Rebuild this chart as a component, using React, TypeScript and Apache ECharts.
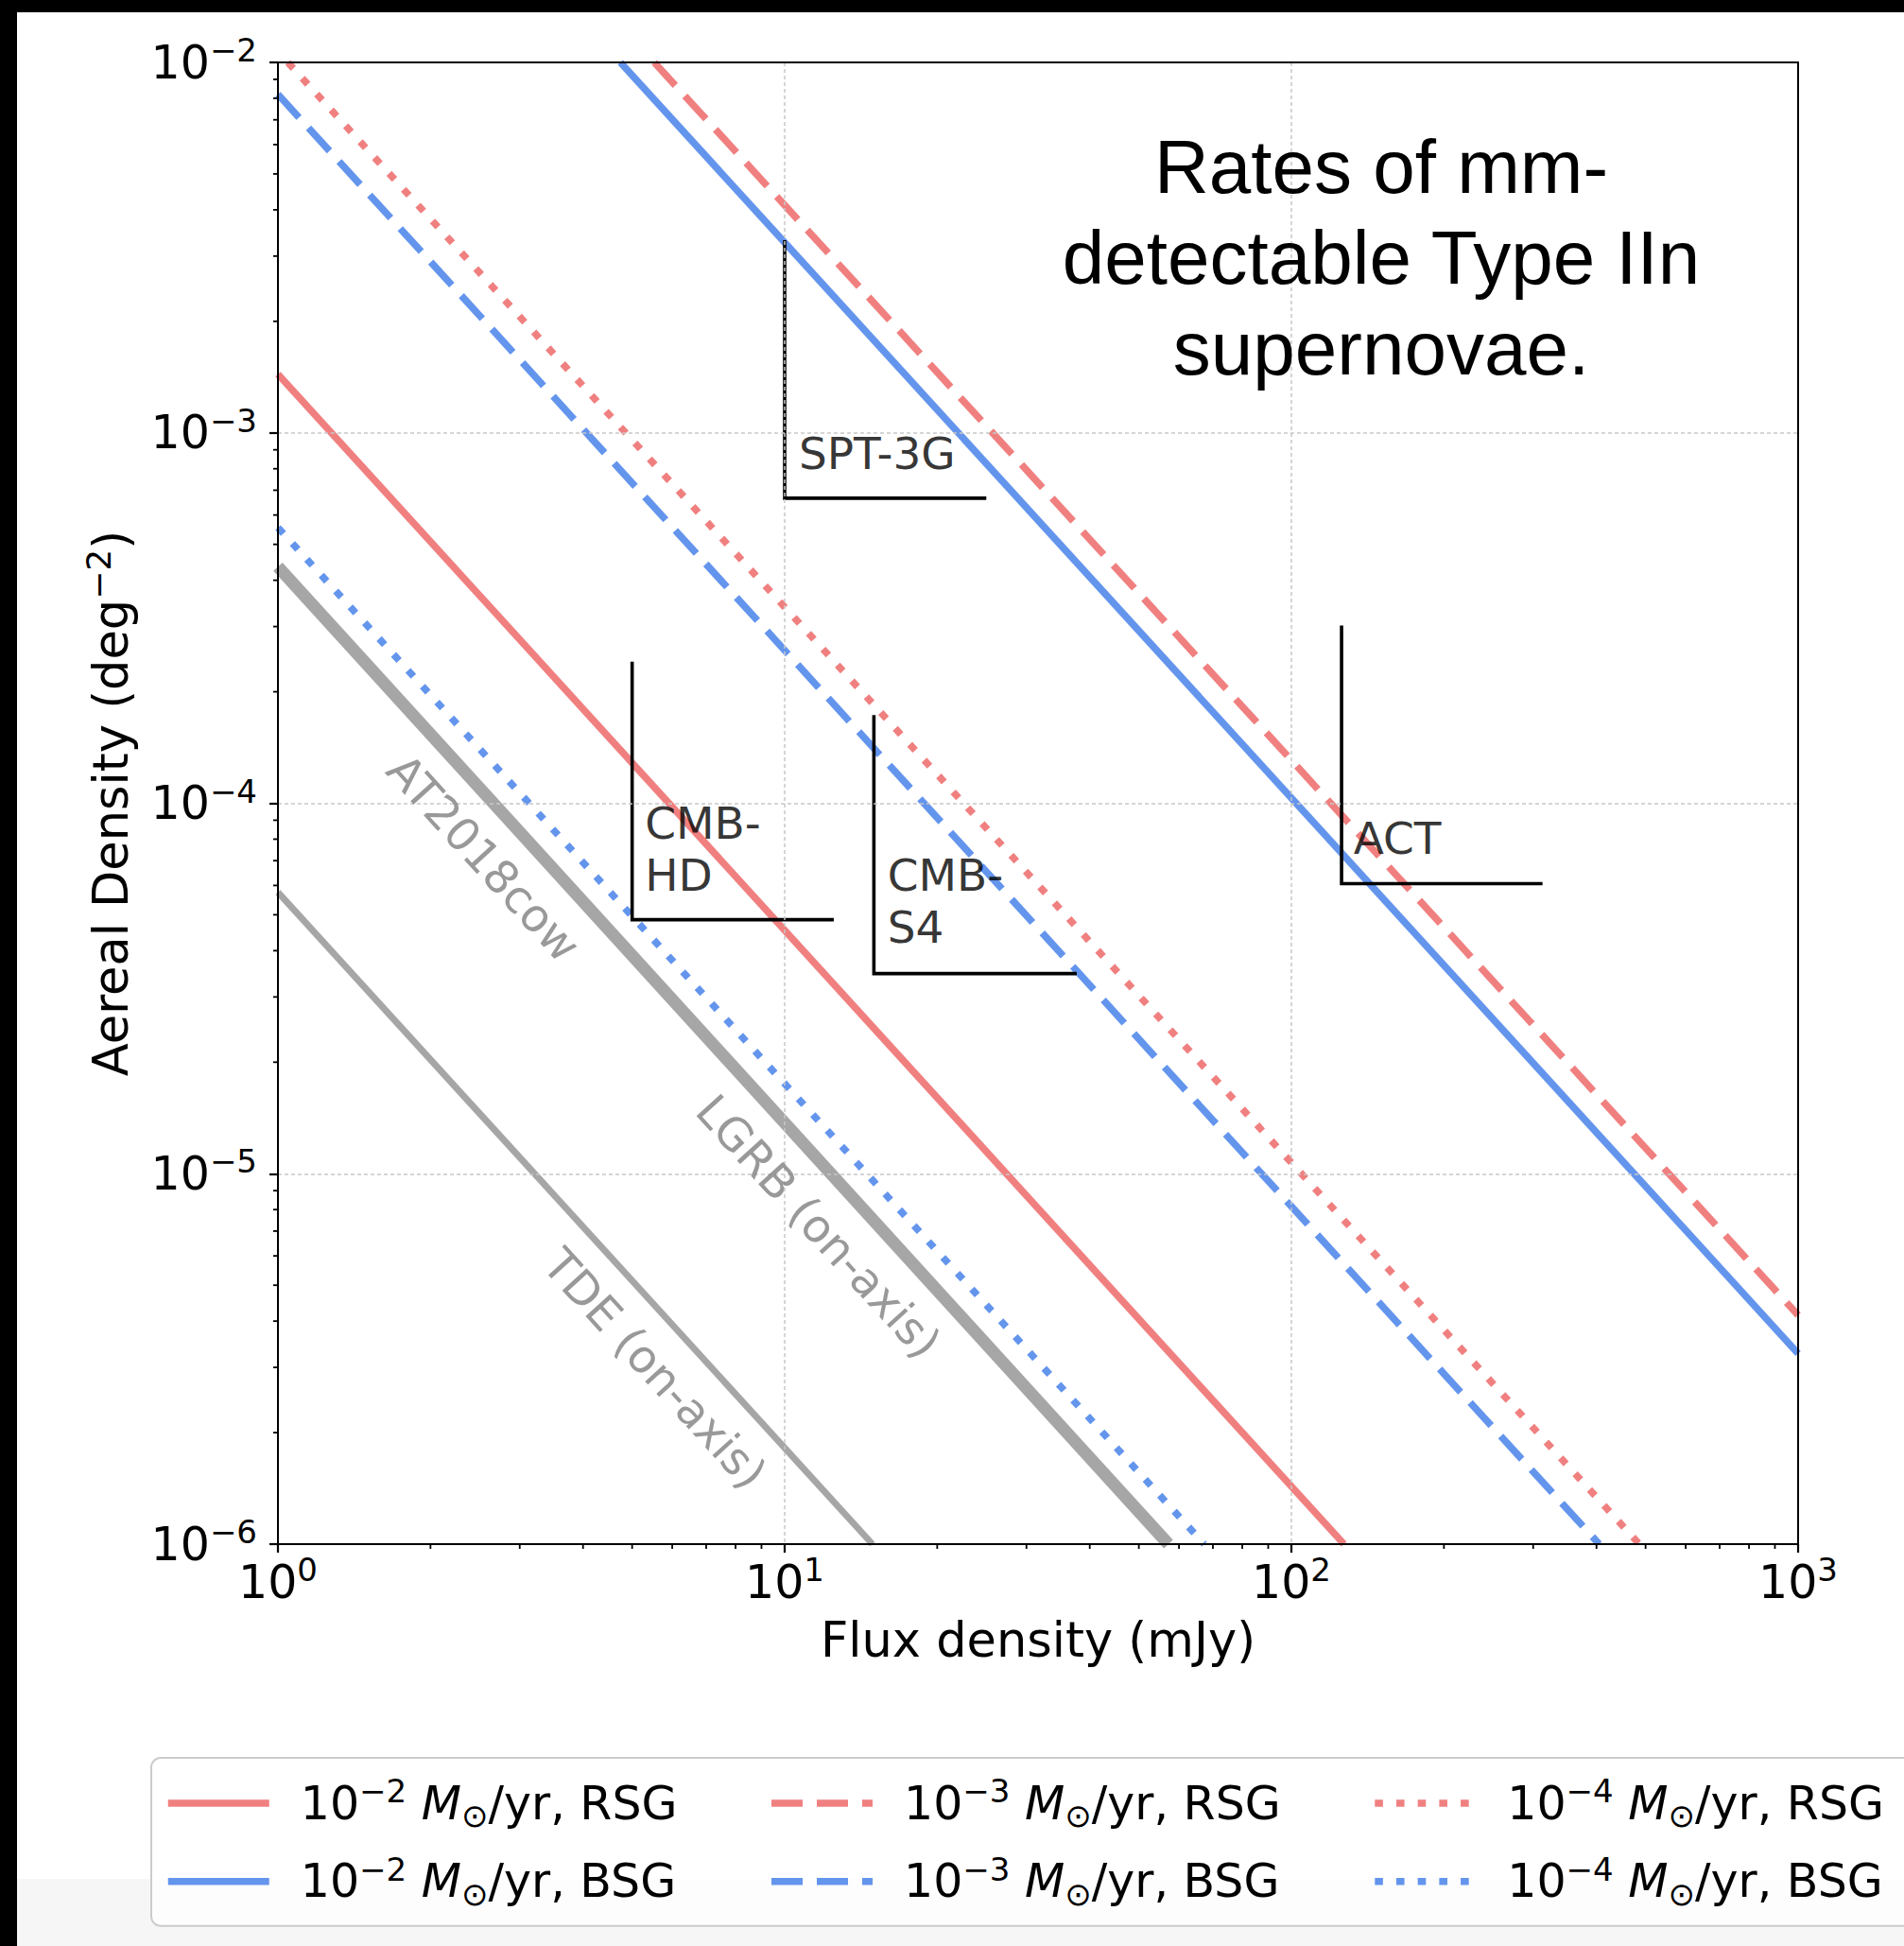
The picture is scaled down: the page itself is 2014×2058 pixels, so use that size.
import React, { useEffect, useRef } from 'react';
import * as echarts from 'echarts';

const FONT = "'DejaVu Sans', 'Noto Sans', sans-serif";

// Axis ranges (log)
const X_RANGE = [1, 1000];
const Y_RANGE = [1e-6, 1e-2];

// Rate curves: endpoints where each line meets the plot frame [flux mJy, density deg^-2]
const massLossExponents = ['−2', '−3', '−4'];
const progenitors = ['RSG', 'BSG'];
const progenitorColors = ['#F08080', '#6495ED'];
const rsgLines = [
  [[1, 1.44e-3], [127, 1e-6]],
  [[5.53, 1e-2], [1000, 4.15e-6]],
  [[1.046, 1e-2], [486, 1e-6]],
];
const bsgLines = [
  [[4.74, 1e-2], [1000, 3.27e-6]],
  [[1, 8.2e-3], [405, 1e-6]],
  [[1, 5.55e-4], [67.3, 1e-6]],
];

// Other transients (grey)
const transientNames = ['AT2018cow / LGRB (on-axis)', 'TDE (on-axis)'];
const transientLines = [
  [[1, 4.35e-4], [57.2, 1e-6]],
  [[1, 5.75e-5], [14.9, 1e-6]],
];
const curveLabelText = ['AT2018cow', 'LGRB (on-axis)', 'TDE (on-axis)'];
const curveLabelPos = [[2.55, 7.13e-5], [11.67, 7.21e-6], [5.55, 2.98e-6]];

// Surveys (detection limit corners)
const surveyNames = ['SPT-3G', 'CMB-HD', 'CMB-S4', 'ACT'];
const surveyLabelText = ['SPT-3G', 'CMB-\nHD', 'CMB-\nS4', 'ACT'];
const surveyFlux = [10, 5, 15, 125.6];
const surveyTop = [3.31e-3, 2.41e-4, 1.73e-4, 3.02e-4];
const surveyFloor = [6.66e-4, 4.85e-5, 3.47e-5, 6.07e-5];
const surveyFluxEnd = [25, 12.5, 37.7, 313];
const surveyLabelPos = [[10.66, 8.8e-4], [5.3, 7.54e-5], [15.95, 5.43e-5], [132.6, 8.04e-5]];

// Log minor ticks
const xMinorTicks = [2, 3, 4, 5, 6, 7, 8, 9, 20, 30, 40, 50, 60, 70, 80, 90, 200, 300, 400, 500, 600, 700, 800, 900];
const yMinorTicks = [
  2e-6, 3e-6, 4e-6, 5e-6, 6e-6, 7e-6, 8e-6, 9e-6,
  2e-5, 3e-5, 4e-5, 5e-5, 6e-5, 7e-5, 8e-5, 9e-5,
  2e-4, 3e-4, 4e-4, 5e-4, 6e-4, 7e-4, 8e-4, 9e-4,
  2e-3, 3e-3, 4e-3, 5e-3, 6e-3, 7e-3, 8e-3, 9e-3,
];

const titleText = 'Rates of mm-\ndetectable Type IIn\nsupernovae.';

const lineDashes: any[] = ['solid', [33, 15], [8.6, 14.1]];

const tickRich = {
  n: { fontFamily: FONT, fontSize: 49, lineHeight: 60, color: '#000' },
  s: { fontFamily: FONT, fontSize: 34, lineHeight: 36, verticalAlign: 'top', color: '#000' },
};

const legendRich = {
  n: { fontFamily: FONT, fontSize: 49, lineHeight: 60, color: '#000' },
  e: { fontFamily: FONT, fontSize: 49, lineHeight: 60, color: '#000', width: 273 },
  s: { fontFamily: FONT, fontSize: 34, lineHeight: 36, verticalAlign: 'top', color: '#000' },
  m: { fontFamily: FONT, fontSize: 49, lineHeight: 60, fontStyle: 'italic', color: '#000' },
  o: { fontFamily: FONT, fontSize: 34, lineHeight: 40, verticalAlign: 'bottom', color: '#000' },
};

function powLabel(v: number) {
  const e = Math.round(Math.log10(v));
  const s = e < 0 ? '−' + String(-e) : String(e);
  return '{n|10}{s|' + s + '}';
}

function buildOption() {
  const series: any[] = [];
  const legendData: string[] = [];

  progenitors.forEach((prog, pi) => {
    const lines = pi === 0 ? rsgLines : bsgLines;
    massLossExponents.forEach((exp, mi) => {
      const name = prog + ':' + exp;
      legendData.push(name);
      series.push({
        name,
        type: 'line',
        data: lines[mi],
        symbol: 'none',
        clip: true,
        silent: true,
        z: 3,
        itemStyle: { color: progenitorColors[pi] },
        lineStyle: { color: progenitorColors[pi], width: 7.5, type: lineDashes[mi], cap: 'butt' },
      });
    });
    if (pi === 0) legendData.push('');
  });

  transientNames.forEach((nm, i) => {
    series.push({
      name: nm,
      type: 'line',
      data: transientLines[i],
      symbol: 'none',
      clip: true,
      silent: true,
      z: 2,
      lineStyle: { color: '#a6a6a6', width: i === 0 ? 13 : 7, cap: 'butt' },
    });
  });

  surveyNames.forEach((nm, i) => {
    series.push({
      name: nm,
      type: 'line',
      data: [
        [surveyFlux[i], surveyTop[i]],
        [surveyFlux[i], surveyFloor[i]],
        [surveyFluxEnd[i], surveyFloor[i]],
      ],
      symbol: 'none',
      clip: true,
      silent: true,
      z: 4,
      lineStyle: { color: '#000', width: 3.6, join: 'miter' },
    });
  });

  series.push({
    name: 'survey labels',
    type: 'scatter',
    symbolSize: 1,
    silent: true,
    z: 6,
    itemStyle: { color: 'rgba(0,0,0,0)' },
    data: surveyLabelPos.map((p, i) => ({ name: surveyLabelText[i], value: p })),
    label: {
      show: true,
      position: 'inside',
      align: 'left',
      verticalAlign: 'middle',
      formatter: '{b}',
      fontFamily: FONT,
      fontSize: 47,
      lineHeight: 55,
      color: '#000',
    },
  });

  series.push({
    name: 'curve labels',
    type: 'scatter',
    symbolSize: 1,
    silent: true,
    z: 6,
    itemStyle: { color: 'rgba(0,0,0,0)' },
    data: curveLabelPos.map((p, i) => ({ name: curveLabelText[i], value: p })),
    label: {
      show: true,
      position: 'inside',
      align: 'center',
      verticalAlign: 'middle',
      rotate: -47.63,
      formatter: '{b}',
      fontFamily: FONT,
      fontSize: 48,
      color: '#808080',
    },
  });

  series.push({
    name: 'x minor ticks',
    type: 'custom',
    silent: true,
    clip: false,
    z: 5,
    data: xMinorTicks.map((v) => [v, Y_RANGE[0]]),
    renderItem: (params: any, api: any) => {
      const p = api.coord([api.value(0), api.value(1)]);
      return {
        type: 'line',
        shape: { x1: p[0], y1: p[1], x2: p[0], y2: p[1] + 5 },
        style: { stroke: '#000', lineWidth: 1.8 },
      };
    },
  });

  series.push({
    name: 'y minor ticks',
    type: 'custom',
    silent: true,
    clip: false,
    z: 5,
    data: yMinorTicks.map((v) => [X_RANGE[0], v]),
    renderItem: (params: any, api: any) => {
      const p = api.coord([api.value(0), api.value(1)]);
      return {
        type: 'line',
        shape: { x1: p[0] - 5, y1: p[1], x2: p[0], y2: p[1] },
        style: { stroke: '#000', lineWidth: 1.8 },
      };
    },
  });

  const axisCommon = {
    type: 'log',
    logBase: 10,
    z: 5,
    axisLine: { show: true, onZero: false, lineStyle: { color: '#000', width: 2 } },
    axisTick: { show: true, length: 9, lineStyle: { color: '#000', width: 2.2 } },
    minorTick: { show: false },
    splitLine: {
      show: true,
      showMinLine: false,
      showMaxLine: false,
      lineStyle: { color: '#c8c8c8', width: 1.5, type: [4, 3] },
    },
  };

  const spineAxis = {
    type: 'log',
    logBase: 10,
    z: 6,
    axisLine: { show: true, onZero: false, lineStyle: { color: '#000', width: 2 } },
    axisTick: { show: false },
    axisLabel: { show: false },
    splitLine: { show: false },
    minorTick: { show: false },
  };

  return {
    animation: false,
    backgroundColor: '#ffffff',
    grid: {
      left: 294,
      top: 66,
      width: 1608,
      height: 1567,
      show: false,
      containLabel: false,
      outerBoundsMode: 'none',
    },
    xAxis: [
      {
        ...axisCommon,
        min: X_RANGE[0],
        max: X_RANGE[1],
        splitNumber: 3,
        position: 'bottom',
        axisLabel: {
          margin: 10,
          formatter: powLabel,
          rich: tickRich,
          showMinLabel: true,
          showMaxLabel: true,
        },
        name: 'Flux density (mJy)',
        nameLocation: 'middle',
        nameGap: 70,
        nameTextStyle: { fontFamily: FONT, fontSize: 51, lineHeight: 62, color: '#000' },
      },
      { ...spineAxis, min: X_RANGE[0], max: X_RANGE[1], position: 'top' },
    ],
    yAxis: [
      {
        ...axisCommon,
        min: Y_RANGE[0],
        max: Y_RANGE[1],
        splitNumber: 4,
        position: 'left',
        axisLabel: {
          margin: 22,
          formatter: powLabel,
          rich: tickRich,
          showMinLabel: true,
          showMaxLabel: true,
        },
        name: '{n|Aereal Density (deg}{s|−2}{n|)}',
        nameLocation: 'middle',
        nameGap: 146,
        nameTextStyle: {
          color: '#000',
          rich: {
            n: { fontFamily: FONT, fontSize: 51, lineHeight: 62, color: '#000' },
            s: { fontFamily: FONT, fontSize: 36, lineHeight: 38, verticalAlign: 'top', color: '#000' },
          },
        },
      },
      { ...spineAxis, min: Y_RANGE[0], max: Y_RANGE[1], position: 'right' },
    ],
    legend: {
      show: true,
      orient: 'horizontal',
      left: 160,
      top: 1859,
      width: 2000,
      padding: [18, 14, 17, 14],
      itemGap: 22.7,
      itemWidth: 107,
      itemHeight: 14,
      selectedMode: false,
      backgroundColor: 'rgba(255,255,255,0.8)',
      borderColor: '#cccccc',
      borderWidth: 2,
      borderRadius: 10,
      data: legendData,
      lineStyle: { width: 7.5 },
      itemStyle: { opacity: 0 },
      formatter: (name: string) => {
        const [prog, exp] = name.split(':');
        return '{n|10}{s|' + exp + '}{n| }{m|M}{o|⊙}{e|/yr, ' + prog + '}';
      },
      textStyle: {
        padding: [0, 0, 0, 28],
        color: '#000',
        rich: legendRich,
      },
    },
    graphic: {
      elements: [
        { type: 'rect', z: 0, shape: { x: 18, y: 1987, width: 1996, height: 71 }, style: { fill: '#f6f6f6' } },
        { type: 'rect', z: 100, shape: { x: 0, y: 0, width: 2014, height: 13 }, style: { fill: '#000' } },
        { type: 'rect', z: 100, shape: { x: 0, y: 0, width: 18, height: 2058 }, style: { fill: '#000' } },
        {
          type: 'text',
          z: 50,
          x: 1461,
          y: 272.6,
          style: {
            text: titleText,
            align: 'center',
            verticalAlign: 'middle',
            fontFamily: "'Liberation Sans', Arial, sans-serif",
            fontSize: 80,
            lineHeight: 96,
            fill: '#000',
          },
        },
      ],
    },
    series,
  };
}

export default function App() {
  const ref = useRef<HTMLDivElement>(null);
  useEffect(() => {
    if (!ref.current) return;
    const chart = echarts.init(ref.current, null, { renderer: 'svg' });
    chart.setOption(buildOption() as any);
    return () => {
      chart.dispose();
    };
  }, []);
  return (
    <div
      ref={ref}
      style={{ position: 'fixed', left: 0, top: 0, width: 2014, height: 2058, background: '#fff' }}
    />
  );
}
